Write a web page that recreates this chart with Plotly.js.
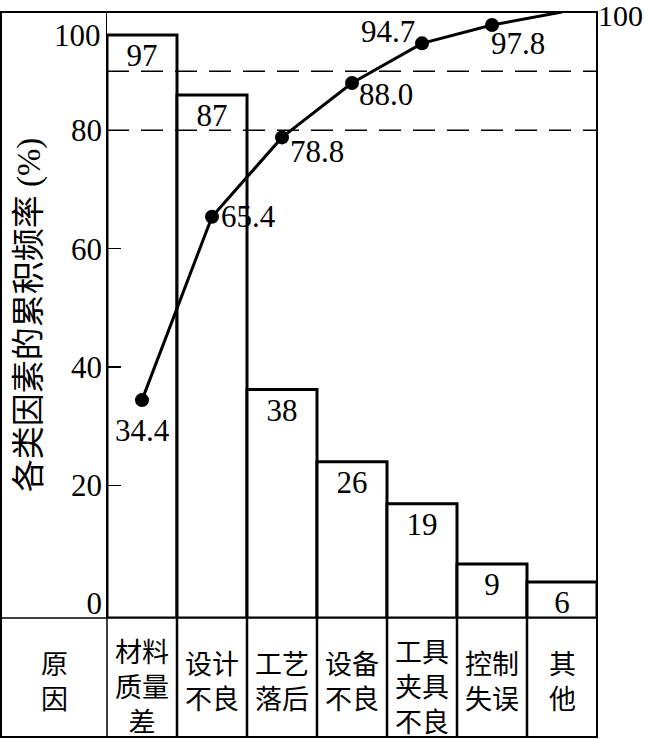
<!DOCTYPE html>
<html>
<head>
<meta charset="utf-8">
<script src="https://cdn.plot.ly/plotly-3.0.1.min.js"></script>
<style>html,body{margin:0;padding:0;background:#fff;}#chart{width:645px;height:739px;}</style>
</head>
<body>
<div id="chart"></div>
<script>
// ---- data ----
var categories = ['材料质量差', '设计不良', '工艺落后', '设备不良', '工具夹具不良', '控制失误', '其他'];
var categoryLines = [['材料', '质量', '差'], ['设计', '不良'], ['工艺', '落后'], ['设备', '不良'], ['工具', '夹具', '不良'], ['控制', '失误'], ['其', '他']];
var counts = [97, 87, 38, 26, 19, 9, 6];
var cumPct = [34.4, 65.4, 78.8, 88.0, 94.7, 97.8, 100];
var cumLabels = ['34.4', '65.4', '78.8', '88.0', '94.7', '97.8', '100'];
var pctTicks = [0, 20, 40, 60, 80];
var pctTopLabel = '100';
var pctTickMarks = [20, 40, 60, 80];
var thresholds = [80, 90];
var rowHeader = ['原', '因'];
var yTitle = '各类因素的累积频率 (%)';

// ---- layout helpers ----
var W = 645, H = 739;
var M = {l: 107, r: 48, t: 12, b: 121};
var PW = W - M.l - M.r, PH = H - M.t - M.b;
function px2py(py) { return (H - M.b - py) / PH; }
function px2px(px) { return (px - M.l) / PW; }
var serif = "'Liberation Serif', 'Times New Roman', 'DejaVu Serif', 'Noto Sans CJK SC', serif";
var cjk = "'Noto Sans CJK SC', sans-serif";
var pctRange = [-2.43, 100];
// label placement for the cumulative labels: [xanchor, xshift, yshift]
var cumLabelPlace = [
  ['center', 0, -30], ['left', 7, 0], ['left', 6, -14], ['left', 5, -12],
  ['right', -5, 12], ['left', -3, -18], ['left', -1, -3]
];

var bars = {
  type: 'bar', x: categories, y: counts, yaxis: 'y', width: 1,
  marker: {color: '#ffffff', line: {color: '#000', width: 3}},
  text: counts.map(String), textposition: 'inside', insidetextanchor: 'end',
  constraintext: 'none', textangle: 0,
  textfont: {family: serif, size: 31, color: '#000'},
  hoverinfo: 'skip', showlegend: false
};
var line = {
  type: 'scatter', x: categories, y: cumPct, yaxis: 'y2',
  mode: 'lines+markers',
  line: {color: '#000', width: 3},
  marker: {color: '#000', opacity: 1, line: {width: 0},
    size: cumPct.map(function (v, i) { return i === cumPct.length - 1 ? 0.1 : 14; })},
  cliponaxis: false, hoverinfo: 'skip', showlegend: false
};
var tickHolder = {
  type: 'scatter', x: [categories[0]], y: [null], yaxis: 'y3', mode: 'markers',
  hoverinfo: 'skip', showlegend: false
};

var shapes = [];
// outer frame
shapes.push({type: 'rect', xref: 'paper', yref: 'paper', x0: px2px(1), x1: 1, y0: px2py(737), y1: 1,
  line: {color: '#000', width: 2}, layer: 'above'});
// table top line
shapes.push({type: 'line', xref: 'paper', yref: 'paper', x0: px2px(1), x1: 1, y0: 0, y1: 0,
  line: {color: '#000', width: 1.5}, layer: 'above'});
// table column separators
for (var i = 0; i < categories.length - 1; i++) {
  shapes.push({type: 'line', xref: 'x', yref: 'paper', x0: i + 0.5, x1: i + 0.5, y0: 0, y1: px2py(737),
    line: {color: '#000', width: 2.5}, layer: 'above'});
}
shapes.push({type: 'line', xref: 'paper', yref: 'paper', x0: 0, x1: 0, y0: 0, y1: px2py(737),
  line: {color: '#000', width: 1.5}, layer: 'above'});
// threshold dashed lines
thresholds.forEach(function (t) {
  shapes.push({type: 'line', xref: 'paper', yref: 'y2', x0: 0, x1: 1, y0: t, y1: t,
    line: {color: '#000', width: 1.5, dash: '22px,12px'}, layer: 'above'});
});

var annotations = [];
// table text (one annotation per cell)
function cell(xref, x, lines) {
  annotations.push({xref: xref, yref: 'paper', x: x, y: px2py(lines.length === 3 ? 685 : 680),
    text: lines.join('<br>'), showarrow: false, align: 'center',
    xanchor: 'center', yanchor: 'middle',
    font: {family: cjk, size: 27, color: '#000'}});
}
categoryLines.forEach(function (lines, i) { cell('x', i, lines); });
cell('paper', px2px(54), rowHeader);
// "100" of the left scale, drawn at the top of the first bar as in the source figure
annotations.push({xref: 'paper', yref: 'y', x: 0, y: counts[0], xshift: -4,
  text: pctTopLabel, showarrow: false, xanchor: 'right', yanchor: 'middle',
  font: {family: serif, size: 31, color: '#000'}});
// cumulative labels
cumLabels.forEach(function (s, i) {
  var p = cumLabelPlace[i];
  var last = i === cumLabels.length - 1;
  annotations.push({xref: last ? 'paper' : 'x', yref: 'y2', x: last ? 1 : categories[i], y: cumPct[i],
    text: s, showarrow: false, xanchor: p[0], yanchor: 'middle', xshift: p[1], yshift: p[2],
    font: {family: serif, size: last ? 30 : 31, color: '#000'}});
});

var layout = {
  width: W, height: H, margin: M, autosize: false,
  paper_bgcolor: '#fff', plot_bgcolor: '#fff', bargap: 0,
  xaxis: {type: 'category', range: [-0.5, categories.length - 0.5], showticklabels: false, ticks: '',
    showgrid: false, zeroline: false, showline: false, fixedrange: true},
  yaxis: {range: [0, 100.83], visible: false, fixedrange: true},
  yaxis2: {overlaying: 'y', side: 'left', range: pctRange, tickvals: pctTicks, ticks: '',
    showgrid: false, zeroline: false, showline: false, ticklabelstandoff: 4,
    tickfont: {family: serif, size: 31, color: '#000'},
    title: {text: yTitle, font: {family: serif, size: 33, color: '#000'}, standoff: 20}},
  yaxis3: {overlaying: 'y', side: 'left', range: pctRange, tickvals: pctTickMarks, ticks: 'inside',
    ticklen: 14, tickwidth: 1.5, tickcolor: '#000', showticklabels: false, showgrid: false,
    zeroline: false, showline: true, linecolor: '#000', linewidth: 1.5},
  shapes: shapes, annotations: annotations,
  font: {family: serif, color: '#000'}
};

Plotly.newPlot('chart', [bars, line, tickHolder], layout, {staticPlot: true, displayModeBar: false});
</script>
</body>
</html>
